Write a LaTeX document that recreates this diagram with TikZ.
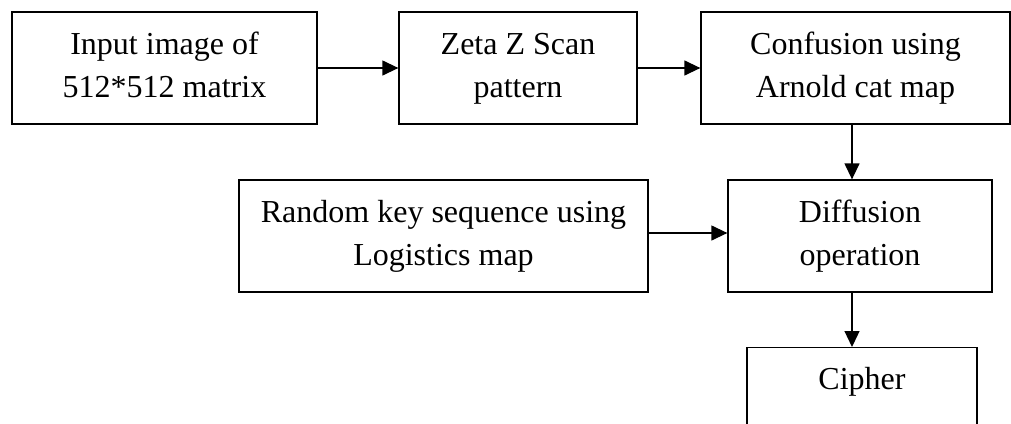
\documentclass[tikz,border=0pt]{standalone}
\usepackage{fontspec}
\setmainfont{Liberation Serif}
\usetikzlibrary{arrows.meta}
\newcommand\linestrut{\rule[-14pt]{0pt}{43pt}}
\tikzset{
  box/.style={draw=black, line width=1.3pt, rectangle, inner sep=0pt, minimum height=112pt,
    align=center, font=\fontsize{32}{43}\selectfont},
  conn/.style={line width=1.3pt, -{Triangle[length=16pt,width=15pt]}}
}
\begin{document}
\begin{tikzpicture}[x=1pt,y=-1pt]
\useasboundingbox (0,0) rectangle (1011,423);
\clip (0,0) rectangle (1011,423);
\node[box, minimum width=305pt] (b1) at (164.5,68) {\linestrut Input image of\\\linestrut 512*512 matrix};
\node[box, minimum width=238pt] (b2) at (518,68) {\linestrut Zeta Z Scan\\\linestrut pattern};
\node[box, minimum width=309pt] (b3) at (855.5,68) {\linestrut Confusion using\\\linestrut Arnold cat map};
\node[box, minimum width=409pt] (b4) at (443.5,236) {\linestrut Random key sequence using\\\linestrut Logistics map};
\node[box, minimum width=264pt] (b5) at (860,236) {\linestrut Diffusion\\\linestrut operation};
\node[box, minimum width=230pt, anchor=north] (b6) at (862,347) {\linestrut Cipher\\\linestrut};
\draw[conn] (b1.east) -- (b2.west);
\draw[conn] (b2.east) -- (b3.west);
\draw[conn] ([xshift=-3.5pt]b3.south) -- ([xshift=-8pt]b5.north);
\draw[conn] ([yshift=3pt]b4.east) -- ([yshift=3pt]b5.west);
\draw[conn] ([xshift=-8pt]b5.south) -- ([xshift=-10pt]b6.north);
\end{tikzpicture}
\end{document}
